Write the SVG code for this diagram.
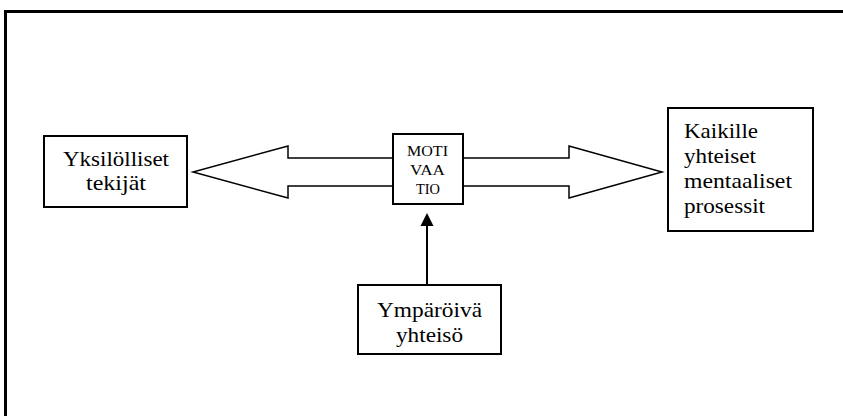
<svg xmlns="http://www.w3.org/2000/svg" width="843" height="416" viewBox="0 0 843 416">
<style>
.box{fill:#fff;stroke:#000;stroke-width:2}
.arr{fill:#fff;stroke:#000;stroke-width:1.5;stroke-linejoin:miter}
.t{font-family:"Liberation Serif","DejaVu Serif","Times New Roman",serif;font-size:21px;fill:#000}
.s{font-family:"Liberation Serif","DejaVu Serif","Times New Roman",serif;font-size:14px;fill:#000}
</style>
<rect x="0" y="0" width="843" height="416" fill="#fff"/>
<path d="M5.5 416 V11.5 H843" fill="none" stroke="#000" stroke-width="3"/>
<g id="connectors">
<polygon class="arr" points="393,158 288,158 288,146 193,172 288,198 288,186 393,186"/>
<polygon class="arr" points="462,158 569,158 569,146 662,172 569,198 569,186 462,186"/>
<line x1="427" y1="285" x2="427" y2="224" stroke="#000" stroke-width="2"/>
<polygon points="427,213 420.5,226 433.5,226" fill="#000"/>
</g>
<g id="yksilolliset">
<rect class="box" x="44" y="136" width="143" height="71"/>
<text class="t" x="63" y="166" textLength="106" lengthAdjust="spacingAndGlyphs">Yksilölliset</text>
<text class="t" x="86" y="190" textLength="60" lengthAdjust="spacingAndGlyphs">tekijät</text>
</g>
<g id="motivaatio">
<rect class="box" x="393" y="134" width="70" height="70"/>
<text class="s" x="407" y="156" textLength="41" lengthAdjust="spacingAndGlyphs">MOTI</text>
<text class="s" x="410" y="175" textLength="35" lengthAdjust="spacingAndGlyphs">VAA</text>
<text class="s" x="416" y="194" textLength="24" lengthAdjust="spacingAndGlyphs">TIO</text>
</g>
<g id="kaikille">
<rect class="box" x="668" y="108" width="145" height="123"/>
<text class="t" x="684" y="138" textLength="74" lengthAdjust="spacingAndGlyphs">Kaikille</text>
<text class="t" x="684" y="163" textLength="72" lengthAdjust="spacingAndGlyphs">yhteiset</text>
<text class="t" x="684" y="188" textLength="108" lengthAdjust="spacingAndGlyphs">mentaaliset</text>
<text class="t" x="684" y="213" textLength="81" lengthAdjust="spacingAndGlyphs">prosessit</text>
</g>
<g id="ymparoiva">
<rect class="box" x="358" y="285" width="143" height="69"/>
<text class="t" x="377" y="317" textLength="105" lengthAdjust="spacingAndGlyphs">Ympäröivä</text>
<text class="t" x="396" y="342" textLength="67" lengthAdjust="spacingAndGlyphs">yhteisö</text>
</g>
</svg>
